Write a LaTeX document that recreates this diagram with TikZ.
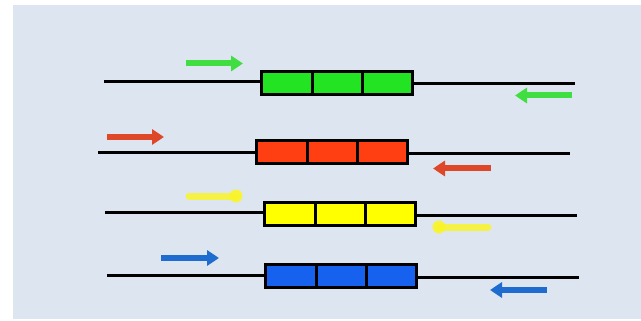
\documentclass[tikz,border=0pt]{standalone}
\usetikzlibrary{arrows.meta}

\definecolor{panel}{RGB}{221,229,240}
\definecolor{gfill}{RGB}{34,228,34}
\definecolor{garrow}{RGB}{64,222,64}
\definecolor{rfill}{RGB}{255,62,18}
\definecolor{rarrow}{RGB}{222,72,40}
\definecolor{yfill}{RGB}{255,255,0}
\definecolor{yarrow}{RGB}{250,245,40}
\definecolor{bfill}{RGB}{22,98,238}
\definecolor{barrow}{RGB}{30,108,208}

\tikzset{
  strand/.style={line width=3pt, black},
  genebox/.style={draw=black, line width=3pt, minimum width=151pt, minimum height=23pt,
                  inner sep=0pt, outer sep=0pt, fill=#1},
  divider/.style={line width=3pt, black},
  primer/.style={line width=6pt, draw=#1,
                 -{Triangle[length=12pt, width=15pt]}},
  softprimer/.style={line width=7pt, draw=#1, line cap=round, opacity=0.85},
}

\begin{document}
\begin{tikzpicture}[x=1pt, y=-1pt]
  \useasboundingbox (0,0) rectangle (641,321);
  \fill[white] (0,0) rectangle (641,321);
  \fill[panel] (13,5) rectangle (641,319);

  % --- green strand ---
  \coordinate (gL) at (104,82);
  \coordinate (gR) at (575,84);
  \node[genebox=gfill] (gbox) at (337,83) {};
  \draw[strand] (gL) -- (gbox.west |- gL);
  \draw[strand] (gbox.east |- gR) -- (gR);
  \draw[divider] ([xshift=-25pt]gbox.north) -- ([xshift=-25pt]gbox.south);
  \draw[divider] ([xshift=25pt]gbox.north) -- ([xshift=25pt]gbox.south);
  \coordinate (gf1) at (186,63.5);
  \coordinate (gf2) at (243,63.5);
  \coordinate (gr1) at (572,95.5);
  \coordinate (gr2) at (515,95.5);
  \draw[primer=garrow] (gf1) -- (gf2);
  \draw[primer=garrow] (gr1) -- (gr2);

  % --- red strand ---
  \coordinate (rL) at (98,152.5);
  \coordinate (rR) at (570,153.5);
  \node[genebox=rfill] (rbox) at (332,152.5) {};
  \draw[strand] (rL) -- (rbox.west |- rL);
  \draw[strand] (rbox.east |- rR) -- (rR);
  \draw[divider] ([xshift=-25pt]rbox.north) -- ([xshift=-25pt]rbox.south);
  \draw[divider] ([xshift=25pt]rbox.north) -- ([xshift=25pt]rbox.south);
  \coordinate (rf1) at (107,137);
  \coordinate (rf2) at (164,137);
  \coordinate (rr1) at (491,168.5);
  \coordinate (rr2) at (433,168.5);
  \draw[primer=rarrow] (rf1) -- (rf2);
  \draw[primer=rarrow] (rr1) -- (rr2);

  % --- yellow strand ---
  \coordinate (yL) at (105,212.5);
  \coordinate (yR) at (577,215);
  \node[genebox=yfill] (ybox) at (340,214) {};
  \draw[strand] (yL) -- (ybox.west |- yL);
  \draw[strand] (ybox.east |- yR) -- (yR);
  \draw[divider] ([xshift=-25pt]ybox.north) -- ([xshift=-25pt]ybox.south);
  \draw[divider] ([xshift=25pt]ybox.north) -- ([xshift=25pt]ybox.south);
  \coordinate (yf1) at (189,196);
  \coordinate (yf2) at (236,196);
  \coordinate (yr1) at (488,227);
  \coordinate (yr2) at (439,227);
  \draw[softprimer=yarrow] (yf1) -- (yf2);
  \fill[yarrow, opacity=0.9] (yf2) circle (6.5pt);
  \draw[softprimer=yarrow] (yr1) -- (yr2);
  \fill[yarrow, opacity=0.9] (yr2) circle (6.5pt);

  % --- blue strand ---
  \coordinate (bL) at (107,275);
  \coordinate (bR) at (579,277.5);
  \node[genebox=bfill] (bbox) at (341,276) {};
  \draw[strand] (bL) -- (bbox.west |- bL);
  \draw[strand] (bbox.east |- bR) -- (bR);
  \draw[divider] ([xshift=-25pt]bbox.north) -- ([xshift=-25pt]bbox.south);
  \draw[divider] ([xshift=25pt]bbox.north) -- ([xshift=25pt]bbox.south);
  \coordinate (bf1) at (161,258);
  \coordinate (bf2) at (219,258);
  \coordinate (br1) at (547,290);
  \coordinate (br2) at (490,290);
  \draw[primer=barrow] (bf1) -- (bf2);
  \draw[primer=barrow] (br1) -- (br2);
\end{tikzpicture}
\end{document}
